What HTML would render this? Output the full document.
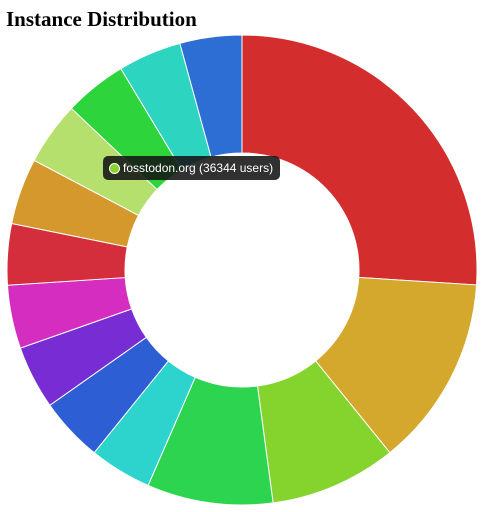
<!DOCTYPE html>
<html><head><meta charset="utf-8">
<style>
html,body{margin:0;padding:0;background:#fff;width:485px;height:512px;overflow:hidden}
h1{position:absolute;left:6px;top:7px;margin:0;font:bold 21px "Liberation Serif",serif;color:#000;z-index:2}
svg{position:absolute;left:0;top:0}
#tip{position:absolute;left:103px;top:156px;height:24px;padding:0 7px 0 6px;background:rgba(20,20,20,0.88);border-radius:5px;color:#fff;font:12px "Liberation Sans",sans-serif;line-height:24px;white-space:nowrap}
#tip span{display:inline-block;width:11px;height:11px;border-radius:50%;background:#8ad32e;vertical-align:-2px;margin-right:3px;border:1px solid #fff;box-sizing:border-box}
</style></head><body>
<h1>Instance Distribution</h1>
<svg id="chart" width="485" height="512"></svg>
<div id="tip"><span></span>fosstodon.org (36344 users)</div>
<script>
const instances=["mastodon.social","mstdn.social","mastodon.online","mas.to","mastodon.world","infosec.exchange","hachyderm.io","universeodon.com","mastodon.lol","mstdn.jp","fosstodon.org","mastodonapp.uk","techhub.social","mastodon.art"];
const users=[217500,110000,72900,72400,35800,36900,36500,36500,35100,38100,36344,36000,36500,35600];
const colors=["#d42d2d","#d4a72d","#85d42d","#2dd44f","#2dd4ce","#2d5ed4","#782dd4","#d42dbf","#d42d3c","#d4982d","#b6e06e","#2dd43b","#2dd4c0","#2d6ed4"];
const cx=242,cy=270,R=235,r=117;
const svg=document.getElementById('chart');
const total=users.reduce((a,b)=>a+b,0);
let a0=0;
function pt(rad,a){return [cx+rad*Math.sin(a),cy-rad*Math.cos(a)];}
users.forEach((v,i)=>{
  const a1=a0+v/total*2*Math.PI;
  const lg=(a1-a0)>Math.PI?1:0;
  const [x0,y0]=pt(R,a0),[x1,y1]=pt(R,a1),[x2,y2]=pt(r,a1),[x3,y3]=pt(r,a0);
  const p=document.createElementNS('http://www.w3.org/2000/svg','path');
  p.setAttribute('d',`M${x0},${y0}A${R},${R} 0 ${lg} 1 ${x1},${y1}L${x2},${y2}A${r},${r} 0 ${lg} 0 ${x3},${y3}Z`);
  p.setAttribute('fill',colors[i]);
  p.setAttribute('stroke','#fff');
  p.setAttribute('stroke-width','1');
  
  
  svg.appendChild(p);
  a0=a1;
});
</script>
</body></html>
